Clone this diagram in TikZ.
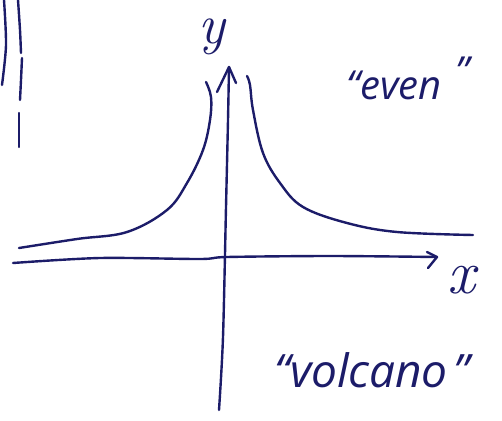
\documentclass[tikz,border=0pt]{standalone}
\usepackage{fontspec}
\newfontfamily\handfont{Open Sans}
\definecolor{ink}{RGB}{28,28,105}
\begin{document}
\begin{tikzpicture}[x=1pt,y=-1pt,
  pen/.style={draw=ink,line width=2.4pt,line cap=round,line join=round},
  lbl/.style={text=ink,inner sep=0pt}]
\useasboundingbox (0,0) rectangle (502,420);
% margin strokes (edge of another sketch)
\draw[pen] plot[smooth] coordinates {(4,0) (6,45) (2,85)};
\draw[pen] plot[smooth] coordinates {(18,0) (20,30) (21,53)};
\draw[pen] plot[smooth] coordinates {(22,58) (21,80) (20,100)};
\draw[pen] (19,113) -- (19,147);
% axes
\draw[pen] plot[smooth] coordinates {(13,263) (100,258) (200,259) (227,257) (330,256) (437,257)};
\coordinate (xtip) at (437,257);
\draw[pen] (427,252) -- (xtip) -- (428,268);
\draw[pen] plot[smooth] coordinates {(219,410) (223,337) (226,207) (228,120) (229,67)};
\coordinate (ytip) at (229,67);
\draw[pen] (217,92) -- (ytip) -- (236,83);
% curves
\draw[pen] plot[smooth,tension=0.6] coordinates {(19,248) (77,239) (127,232) (167,210) (187,183) (203,150) (210,120) (211,97) (206,82)};
\draw[pen] plot[smooth,tension=0.6] coordinates {(247,76) (250,85) (253,110) (263,153) (280,183) (303,207) (347,223) (397,232) (473,235)};
% labels
\node[lbl,font=\fontsize{56}{56}\selectfont\itshape] (ylab) at (212,37) {y};
\node[lbl,font=\fontsize{62}{62}\selectfont\itshape] (xlab) at (461,280) {x};
\node[lbl,font=\handfont\itshape\fontsize{40}{40}\selectfont] (even) at (408,78) {“even\hspace{14pt}\raisebox{14pt}{”}};
\node[lbl,font=\handfont\itshape\fontsize{46}{46}\selectfont] (volcano) at (372,370) {“volcano\hspace{6pt}”};
\end{tikzpicture}
\end{document}
